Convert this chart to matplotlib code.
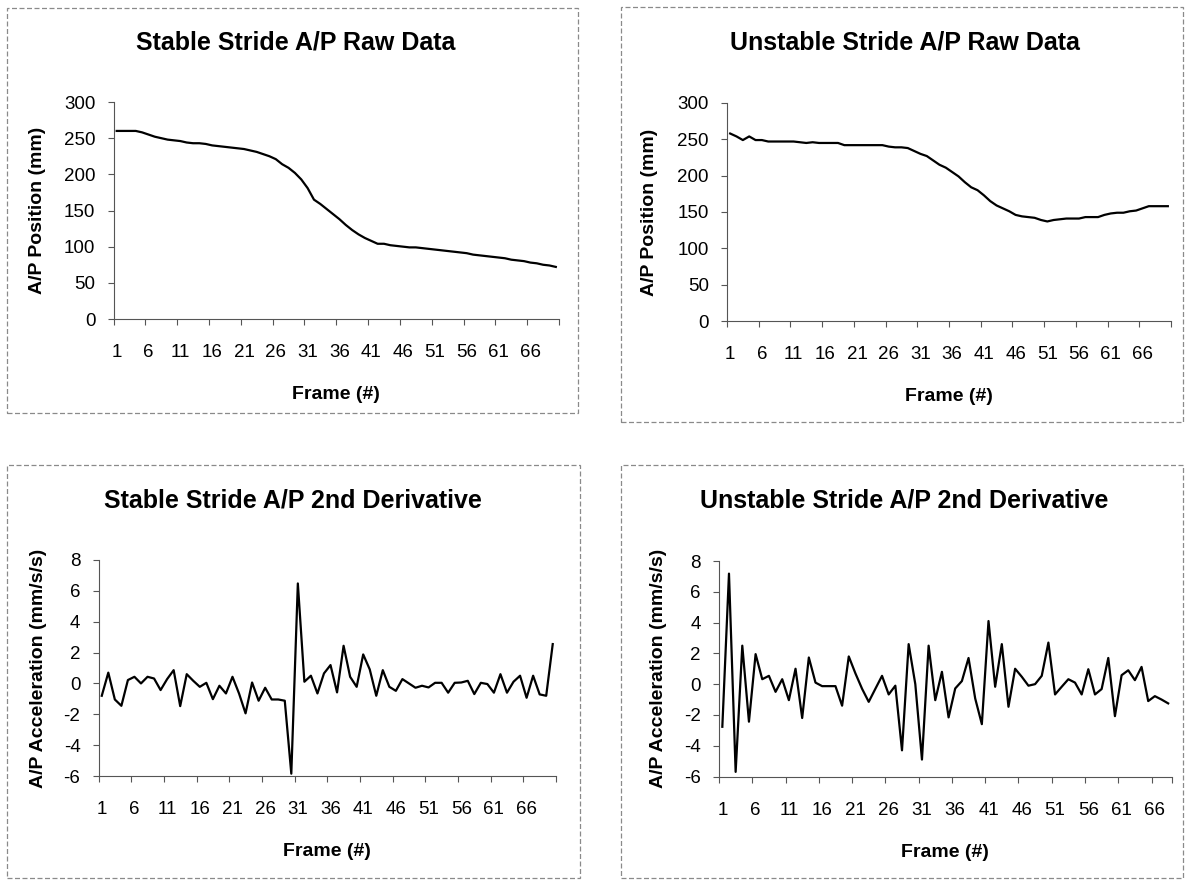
import numpy as np
import matplotlib
matplotlib.use("Agg")
import matplotlib.pyplot as plt
from matplotlib.patches import Rectangle

plt.rcParams["font.family"] = ["Liberation Sans", "DejaVu Sans"]
plt.rcParams["axes.unicode_minus"] = False

# values
stable_raw = [260, 260, 260, 260, 258, 255, 252, 250, 248, 247,
              246, 244, 243, 243, 242, 240, 239, 238, 237, 236,
              235, 233, 231, 228, 225, 221, 214, 209, 202, 193,
              181, 165, 159, 152, 145, 138, 130, 123, 117, 112,
              108, 104, 104, 102, 101, 100, 99, 99, 98, 97,
              96, 95, 94, 93, 92, 91, 89, 88, 87, 86,
              85, 84, 82, 81, 80, 78, 77, 75, 74, 72]

unstable_raw = [258, 254, 249, 254, 249, 249, 247, 247, 247, 247,
                247, 246, 245, 246, 245, 245, 245, 245, 242, 242,
                242, 242, 242, 242, 242, 240, 239, 239, 238, 234,
                230, 227, 221, 215, 211, 205, 199, 191, 184, 180,
                173, 165, 159, 155, 151, 146, 144, 143, 142, 139,
                137, 139, 140, 141, 141, 141, 143, 143, 143, 146,
                148, 149, 149, 151, 152, 155, 158, 158, 158, 158]

stable_acc = [-0.8, 0.7, -1.04, -1.45, 0.22, 0.43, 0.0, 0.43, 0.32, -0.43,
              0.28, 0.86, -1.47, 0.6, 0.17, -0.22, 0.04, -1.02, -0.15, -0.65,
              0.43, -0.65, -1.94, 0.06, -1.12, -0.28, -1.04, -1.04, -1.12, -5.85,
              6.48, 0.11, 0.5, -0.65, 0.65, 1.19, -0.58, 2.44, 0.43, -0.22,
              1.88, 0.91, -0.8, 0.86, -0.22, -0.48, 0.28, 0.0, -0.28, -0.15,
              -0.26, 0.04, 0.04, -0.6, 0.04, 0.06, 0.17, -0.69, 0.04, -0.04,
              -0.6, 0.6, -0.6, 0.11, 0.5, -0.93, 0.5, -0.71, -0.8, 2.55]

unstable_acc = [-2.77, 7.18, -5.7, 2.5, -2.44, 1.95, 0.32, 0.54, -0.5, 0.32,
                -1.04, 1.0, -2.2, 1.73, 0.1, -0.13, -0.13, -0.13, -1.4, 1.8,
                0.7, -0.3, -1.15, -0.3, 0.54, -0.67, -0.1, -4.3, 2.6, 0.0,
                -4.9, 2.5, -1.04, 0.8, -2.16, -0.28, 0.2, 1.7, -0.93, -2.6,
                4.1, -0.17, 2.6, -1.47, 1.0, 0.48, -0.1, 0.0, 0.54, 2.7,
                -0.67, -0.17, 0.32, 0.1, -0.67, 0.97, -0.67, -0.32, 1.7, -2.08,
                0.58, 0.9, 0.26, 1.12, -1.1, -0.78, -1.0, -1.25]

W, H = 1188, 880
fig = plt.figure(figsize=(W / 100, H / 100), dpi=100)


def px_axes(left, top, right, bottom):
    return fig.add_axes([left / W, 1 - bottom / H, (right - left) / W, (bottom - top) / H])


def frame(left, top, right, bottom):
    r = Rectangle((left / W, 1 - bottom / H), (right - left) / W, (bottom - top) / H,
                  transform=fig.transFigure, fill=False, ec="#8a8a8a", lw=0.9,
                  ls=(0, (4, 2)))
    fig.patches.append(r)


def panel(box, values, ylim, ystep, title, ylabel, title_xy, ylab_x):
    ax = px_axes(*box)
    n = len(values)
    frames = np.arange(1, n + 1)
    ax.plot(frames, values, color="black", lw=1.6)
    ax.set_xlim(0.5, n + 0.5)
    ax.set_ylim(*ylim)
    ax.set_yticks(np.arange(ylim[0], ylim[1] + ystep, ystep))
    # ticks between categories, labels on categories
    ax.set_xticks(list(np.arange(0.5, n + 0.5, 5)) + [n + 0.5])
    ax.set_xticklabels([])
    ax.set_xticks(np.arange(1, 67, 5), minor=True)
    ax.set_xticklabels([str(v) for v in range(1, 67, 5)], minor=True)
    ax.tick_params(axis="x", which="minor", length=0, pad=18, labelsize=13.5)
    ax.tick_params(axis="x", which="major", length=4, width=0.8, color="#555555")
    ax.tick_params(axis="y", length=4, width=0.8, color="#555555", pad=9, labelsize=13.5)
    for s in ["top", "right"]:
        ax.spines[s].set_visible(False)
    for s in ["left", "bottom"]:
        ax.spines[s].set_color("#555555")
        ax.spines[s].set_linewidth(0.8)
    ax.set_xlabel("Frame (#)", fontsize=14, fontweight="bold", labelpad=18)
    ax.set_ylabel(ylabel, fontsize=14, fontweight="bold")
    ax.yaxis.set_label_coords((ylab_x - box[0]) / (box[2] - box[0]), 0.5)
    fig.text(title_xy[0] / W, 1 - title_xy[1] / H, title, ha="center", va="center",
             fontsize=18, fontweight="bold")
    return ax


frame(7, 8, 578, 413)
frame(621, 7, 1183, 422)
frame(7, 465, 580, 878)
frame(621, 465, 1183, 878)

panel((113.5, 102, 559, 319), stable_raw, (0, 300), 50,
      "Stable Stride A/P Raw Data", "A/P Position (mm)", (296, 42), 46)
panel((727, 103, 1171, 321), unstable_raw, (0, 300), 50,
      "Unstable Stride A/P Raw Data", "A/P Position (mm)", (905, 42), 658)
panel((98.5, 560, 556, 776), stable_acc, (-6, 8), 2,
      "Stable Stride A/P 2nd Derivative", "A/P Acceleration (mm/s/s)", (293, 500), 47)
panel((719, 561, 1171.5, 776.5), unstable_acc, (-6, 8), 2,
      "Unstable Stride A/P 2nd Derivative", "A/P Acceleration (mm/s/s)", (904, 500), 667)

fig.savefig("out.png", dpi=100)
